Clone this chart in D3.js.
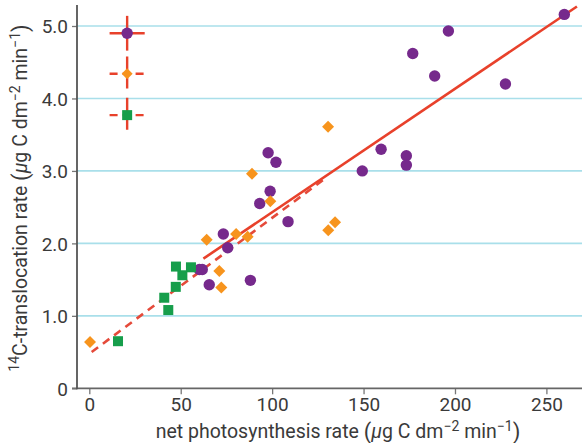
<!DOCTYPE html>
<html><head><meta charset="utf-8">
<script src="https://cdn.jsdelivr.net/npm/d3@7"></script>
<style>
html,body{margin:0;padding:0;background:#fff;}
svg{display:block;font-family:Roboto,"Noto Sans",sans-serif;}
</style></head>
<body><svg id="c" width="582" height="443"></svg>
<script>
// Data
const purpleX = [60.2, 61.8, 65.6, 73.3, 75.7, 88.1, 93.2, 97.8, 98.9, 102.1, 108.7, 149.3, 159.6, 173.4, 173.4, 176.9, 188.9, 196.4, 227.6, 259.8];
const purpleY = [1.64, 1.64, 1.43, 2.13, 1.94, 1.49, 2.55, 3.25, 2.72, 3.12, 2.30, 3.00, 3.30, 3.21, 3.08, 4.62, 4.31, 4.93, 4.20, 5.16];
const orangeX = [0.4, 64.2, 71.1, 72.2, 80.3, 86.6, 89.0, 99.0, 130.6, 130.7, 134.4];
const orangeY = [0.64, 2.05, 1.62, 1.39, 2.13, 2.09, 2.96, 2.58, 3.61, 2.18, 2.29];
const greenX = [15.7, 41.0, 43.2, 47.3, 47.4, 50.9, 55.6];
const greenY = [0.65, 1.25, 1.08, 1.40, 1.68, 1.56, 1.67];
// error-bar key (typical errors per series)
const errSeries = ["purple", "orange", "green"];
const errX = [20.7, 20.7, 20.7];
const errY = [4.90, 4.34, 3.77];
const errDX = [9.6, 9.6, 9.6];
const errDY = [0.24, 0.24, 0.24];
// regression lines [x0, x1], slope, intercept
const solidFit = {x: [62.4, 266.7], slope: 0.01703, intercept: 0.727};
const dashFit = {x: [1.3, 130], slope: 0.01876, intercept: 0.476};
const xTicks = [0, 50, 100, 150, 200, 250];
const yTicks = [0, 1, 2, 3, 4, 5];
const yTickLabels = ["0", "1.0", "2.0", "3.0", "4.0", "5.0"];

const colors = {purple: "#76298c", orange: "#f7941d", green: "#169e4b"};
const red = "#e8412b";

const svg = d3.select("#c");
const x = d3.scaleLinear().domain([0, 250]).range([89.3, 546.4]);
const y = d3.scaleLinear().domain([0, 5]).range([388.3, 26]);
const axisX0 = 77, right = 582, topY = 5;

// gridlines
svg.append("g").selectAll("line").data(yTicks.filter(d => d > 0)).join("line")
  .attr("x1", axisX0).attr("x2", right)
  .attr("y1", d => y(d)).attr("y2", d => y(d))
  .attr("stroke", "#a9dfea").attr("stroke-width", 1.6);

// axes
const gx = svg.append("g").attr("transform", `translate(0,${y(0)})`)
  .call(d3.axisBottom(x).tickValues(xTicks).tickSize(6).tickPadding(3).tickFormat(d3.format("d")));
gx.select(".domain").remove();
gx.append("line").attr("x1", 72).attr("x2", right).attr("stroke", "#666").attr("stroke-width", 1.8);
const gy = svg.append("g").attr("transform", `translate(${axisX0},0)`)
  .call(d3.axisLeft(y).tickValues(yTicks).tickSize(5).tickPadding(4).tickFormat((d, i) => yTickLabels[i]));
gy.select(".domain").remove();
gy.append("line").attr("y1", topY).attr("y2", y(0) + 1).attr("stroke", "#555").attr("stroke-width", 1.8);
[gx, gy].forEach(g => {
  g.selectAll(".tick line").attr("stroke", "#777").attr("stroke-width", 1.3);
  g.selectAll(".tick text").attr("fill", "#3a3a3a").attr("font-size", 19).attr("font-family", "Roboto, sans-serif");
});
gx.selectAll(".tick text").attr("dy", "0.71em");
gy.selectAll(".tick text").attr("dy", "0.36em");

// regression lines
const fitLine = f => [[f.x[0], f.intercept + f.slope * f.x[0]], [f.x[1], f.intercept + f.slope * f.x[1]]];
const lg = d3.line().x(d => x(d[0])).y(d => y(d[1]));
svg.append("path").attr("d", lg(fitLine(dashFit))).attr("stroke", "#e54a3a").attr("stroke-width", 2.6)
  .attr("stroke-dasharray", "8,6").attr("fill", "none");
svg.append("path").attr("d", lg(fitLine(solidFit))).attr("stroke", red).attr("stroke-width", 2.6).attr("fill", "none");

// points
svg.append("g").selectAll("circle").data(purpleX.map((d, i) => [d, purpleY[i]])).join("circle")
  .attr("cx", d => x(d[0])).attr("cy", d => y(d[1])).attr("r", 5.7).attr("fill", colors.purple);
const sq = 10;
svg.append("g").selectAll("rect").data(greenX.map((d, i) => [d, greenY[i]])).join("rect")
  .attr("x", d => x(d[0]) - sq / 2).attr("y", d => y(d[1]) - sq / 2).attr("width", sq).attr("height", sq).attr("fill", colors.green);
const diamond = d3.symbol().type(d3.symbolSquare).size(72);
svg.append("g").selectAll("path").data(orangeX.map((d, i) => [d, orangeY[i]])).join("path")
  .attr("d", diamond).attr("transform", d => `translate(${x(d[0])},${y(d[1])}) rotate(45)`).attr("fill", colors.orange);

// error-bar key
const eg = svg.append("g");
errSeries.forEach((s, i) => {
  const cx = x(errX[i]), cy = y(errY[i]);
  const dash = i === 0 ? null : "8,5";
  eg.append("line").attr("x1", x(errX[i] - errDX[i])).attr("x2", x(errX[i] + errDX[i]))
    .attr("y1", cy).attr("y2", cy).attr("stroke", red).attr("stroke-width", 2.4).attr("stroke-dasharray", dash);
  eg.append("line").attr("x1", cx).attr("x2", cx).attr("y1", y(errY[i] + errDY[i])).attr("y2", y(errY[i] - errDY[i]))
    .attr("stroke", red).attr("stroke-width", 2.4).attr("stroke-dasharray", i === 0 ? null : "14,4");
  if (s === "purple") eg.append("circle").attr("cx", cx).attr("cy", cy).attr("r", 5.7).attr("fill", colors.purple);
  if (s === "orange") eg.append("path").attr("d", d3.symbol().type(d3.symbolSquare).size(60)).attr("transform", `translate(${cx},${cy}) rotate(45)`).attr("fill", colors.orange);
  if (s === "green") eg.append("rect").attr("x", cx - 5).attr("y", cy - 5).attr("width", 10).attr("height", 10).attr("fill", colors.green);
});

// axis titles
function unitParts(t) {
  t.append("tspan").attr("font-size", 22).attr("dy", 1).text("(");
  t.append("tspan").attr("font-style", "italic").attr("dy", -1).text("μ");
  t.append("tspan").text("g C dm");
  t.append("tspan").attr("dy", -7).attr("font-size", 14).text("−2");
  t.append("tspan").attr("dy", 7).text(" min");
  t.append("tspan").attr("dy", -7).attr("font-size", 14).text("−1");
  t.append("tspan").attr("dy", 8).attr("font-size", 22).text(")");
}
const xt = svg.append("text").attr("x", 338).attr("y", 438).attr("text-anchor", "middle")
  .attr("font-size", 19.5).attr("fill", "#3a3a3a");
xt.append("tspan").text("net photosynthesis rate ");
unitParts(xt);

const yt = svg.append("text").attr("transform", "translate(27,198) rotate(-90)").attr("text-anchor", "middle")
  .attr("font-size", 19.5).attr("fill", "#3a3a3a");
yt.append("tspan").attr("dy", -8).attr("font-size", 14).text("14");
yt.append("tspan").attr("dy", 8).text("C-translocation rate ");
unitParts(yt);
</script></body></html>
